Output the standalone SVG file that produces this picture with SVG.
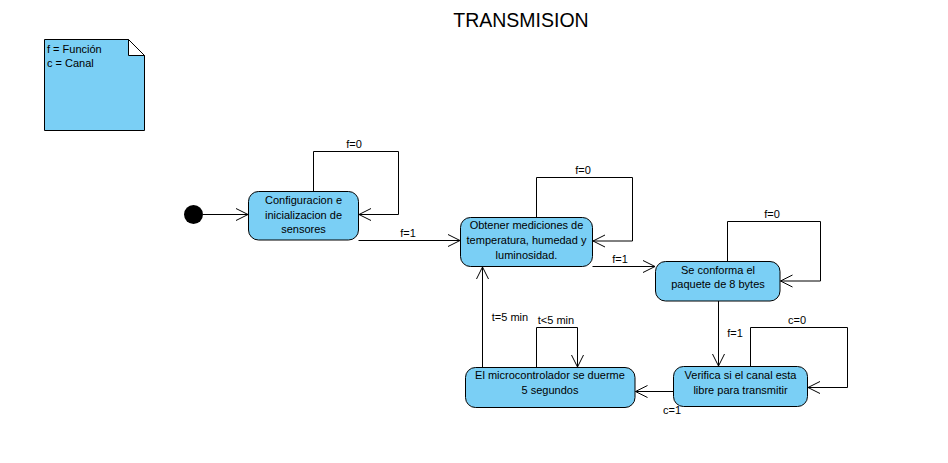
<svg xmlns="http://www.w3.org/2000/svg" width="948" height="463" viewBox="0 0 948 463">
<style>
.st{fill:#7acff5;stroke:#000;stroke-width:1}
.t{font-family:"Liberation Sans",Arial,sans-serif;font-size:11px;fill:#000}
.c{text-anchor:middle}
.e{fill:none;stroke:#000;stroke-width:1}
</style>
<defs>
<marker id="a" markerUnits="userSpaceOnUse" markerWidth="14" markerHeight="14" viewBox="-13 -7 14 14" refX="0" refY="0" orient="auto">
<path d="M-12,-6 L0,0 L-12,6" fill="none" stroke="#000" stroke-width="1"/>
</marker>
</defs>
<rect width="948" height="463" fill="#fff"/>
<text x="521" y="27" font-family="'Liberation Sans',Arial,sans-serif" font-size="19.5" text-anchor="middle">TRANSMISION</text>

<g id="note">
<path d="M44.5,39.5 H128.5 L144.5,55.5 V130.5 H44.5 Z" class="st"/>
<path d="M128.5,39.5 V55.5 H144.5 Z" fill="#fff" stroke="#000"/>
<text x="47" y="52.5" class="t">f = Función</text>
<text x="47" y="67" class="t">c = Canal</text>
</g>

<g id="initial">
<circle cx="193.5" cy="214.5" r="9.5" fill="#000"/>
</g>

<g id="s1">
<rect x="248.5" y="191.5" width="110" height="48.5" rx="10" class="st"/>
<text x="303.5" y="204" class="t c">Configuracion e</text>
<text x="303.5" y="218.5" class="t c">inicializacion de</text>
<text x="303.5" y="233" class="t c">sensores</text>
</g>

<g id="s2">
<rect x="460.5" y="217.5" width="132" height="49" rx="10" class="st"/>
<text x="526.5" y="228.5" class="t c">Obtener mediciones de</text>
<text x="526.5" y="243.5" class="t c">temperatura, humedad y</text>
<text x="526.5" y="258.5" class="t c">luminosidad.</text>
</g>

<g id="s3">
<rect x="655.5" y="261.5" width="124.5" height="39.5" rx="10" class="st"/>
<text x="718" y="273.5" class="t c">Se conforma el</text>
<text x="718" y="288" class="t c">paquete de 8 bytes</text>
</g>

<g id="s4">
<rect x="673.5" y="366.5" width="134" height="40" rx="10" class="st"/>
<text x="740.5" y="378.5" class="t c">Verifica si el canal esta</text>
<text x="740.5" y="393.5" class="t c">libre para transmitir</text>
</g>

<g id="s5">
<rect x="465.5" y="367.5" width="169.5" height="40" rx="10" class="st"/>
<text x="550" y="378.5" class="t c">El microcontrolador se duerme</text>
<text x="550" y="393.5" class="t c">5 segundos</text>
</g>

<g id="connectors">
<path d="M203,214.5 H248" class="e" marker-end="url(#a)"/>
<path d="M313.5,191.5 V151.5 H398.5 V214.5 H359" class="e" marker-end="url(#a)"/>
<text x="354" y="148" class="t c">f=0</text>
<path d="M358.5,240.5 H460" class="e" marker-end="url(#a)"/>
<text x="408" y="236.5" class="t c">f=1</text>

<path d="M536.5,217.5 V177.5 H632.5 V241 H593" class="e" marker-end="url(#a)"/>
<text x="583" y="173.5" class="t c">f=0</text>
<path d="M592.5,266.5 H655" class="e" marker-end="url(#a)"/>
<text x="620" y="262.5" class="t c">f=1</text>

<path d="M727.5,261.5 V221.5 H820.5 V281 H780.5" class="e" marker-end="url(#a)"/>
<text x="772" y="217.5" class="t c">f=0</text>
<path d="M718.5,301 V366" class="e" marker-end="url(#a)"/>
<text x="735" y="337" class="t c">f=1</text>

<path d="M750.5,366.5 V327.5 H847.5 V387.5 H808" class="e" marker-end="url(#a)"/>
<text x="797" y="323.5" class="t c">c=0</text>
<path d="M673.5,391.5 H635.5" class="e" marker-end="url(#a)"/>
<text x="672" y="414" class="t c">c=1</text>

<path d="M536.5,367.5 V327.5 H577.5 V367" class="e" marker-end="url(#a)"/>
<text x="556" y="323.5" class="t c">t&lt;5 min</text>
<path d="M482.5,367.5 V267" class="e" marker-end="url(#a)"/>
<text x="510" y="320.5" class="t c">t=5 min</text>
</g>
</svg>
